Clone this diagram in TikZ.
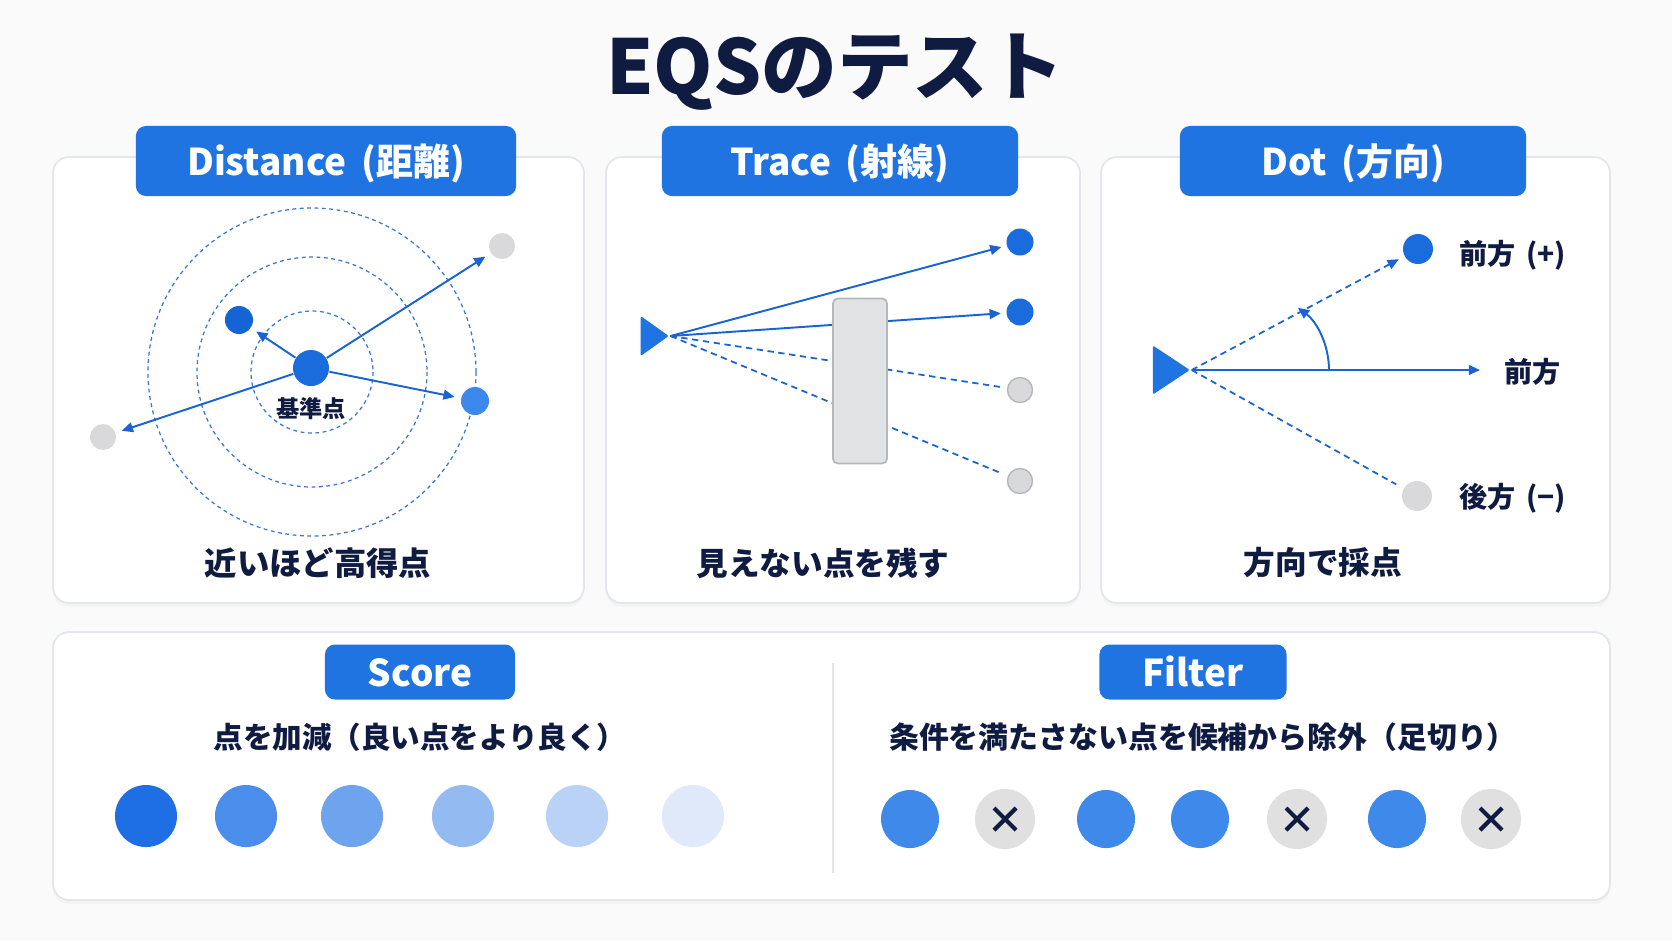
\documentclass[tikz,border=0pt]{standalone}
\usepackage{fontspec}
\setmainfont{Noto Sans CJK JP}
\usetikzlibrary{arrows.meta,shapes.geometric,shadows}
\definecolor{pagebg}{HTML}{FAFAFB}
\definecolor{cardline}{HTML}{E3E6EA}
\definecolor{tabblue}{HTML}{1F74E2}
\definecolor{ink}{HTML}{0F1B40}
\definecolor{ringblue}{HTML}{3A76D2}
\definecolor{rayblue}{HTML}{1A64D2}
\definecolor{ptblue}{HTML}{1A6CDC}
\definecolor{deepblue}{HTML}{1464D6}
\definecolor{midblue}{HTML}{3C88EC}
\definecolor{ptgrey}{HTML}{D9D9DB}
\definecolor{greyline}{HTML}{B4B7BB}
\definecolor{wallgrey}{HTML}{E2E3E5}
\definecolor{fblue}{HTML}{3F89EA}
\definecolor{fgrey}{HTML}{E0E0E1}
\definecolor{sc1}{HTML}{1E6FE3}
\definecolor{sc2}{HTML}{4A8DEA}
\definecolor{sc3}{HTML}{6EA4EE}
\definecolor{sc4}{HTML}{93BBF2}
\definecolor{sc5}{HTML}{B9D2F6}
\definecolor{sc6}{HTML}{DFE9FA}

\begin{document}
\begin{tikzpicture}[x=0.01cm,y=-0.01cm,
  card/.style={draw=cardline,fill=white,rounded corners=0.16cm,line width=0.5pt,
    drop shadow={opacity=0.05,shadow xshift=0pt,shadow yshift=-0.04cm}},
  tab/.style={fill=tabblue,rounded corners=0.1cm,text=white,inner sep=0pt,
    text height=0.85em,text depth=0.05em,
    minimum height=0.7cm,font=\bfseries\fontsize{10.5}{11}\selectfont},
  lbl/.style={text=ink,inner sep=1pt,font=\bfseries\fontsize{#1}{#1}\selectfont},
  pt/.style={circle,fill=#1,inner sep=0pt},
  ring/.style={draw=ringblue,line width=0.35pt,dash pattern=on 1.1pt off 1pt},
  ray/.style={draw=rayblue,line width=0.55pt,-{Triangle[length=3.2pt,width=2.8pt]}},
  dray/.style={draw=rayblue,line width=0.5pt,dash pattern=on 1.8pt off 1.3pt},
  eye/.style={isosceles triangle,isosceles triangle stretches,fill=tabblue,
    inner sep=0pt,rounded corners=0.4pt},
  keep/.style={pt=fblue,minimum size=0.58cm},
  drop/.style={pt=fgrey,minimum size=0.6cm,path picture={
    \draw[ink,line width=1.2pt]
      ([shift={(-0.11cm,-0.11cm)}]path picture bounding box.center) --
      ([shift={(0.11cm,0.11cm)}]path picture bounding box.center)
      ([shift={(-0.11cm,0.11cm)}]path picture bounding box.center) --
      ([shift={(0.11cm,-0.11cm)}]path picture bounding box.center);}}
]
\fill[pagebg] (0,0) rectangle (1672,941);
\useasboundingbox (0,0) rectangle (1672,941);

\node[text=ink,font=\bfseries\fontsize{21.5}{23}\selectfont] (title) at (835,72) {EQSのテスト};

\draw[card] (53,157) rectangle (584,603);
\draw[card] (606,157) rectangle (1080,603);
\draw[card] (1101,157) rectangle (1610,603);
\draw[card] (53,632) rectangle (1610,900);

\node[tab,minimum width=3.8cm] (tdist) at (326,161) {Distance\, (距離)};
\node[tab,minimum width=3.56cm] (ttrace) at (840,161) {Trace\, (射線)};
\node[tab,minimum width=3.46cm] (tdot) at (1353,161) {Dot\, (方向)};
\node[tab,minimum width=1.9cm,minimum height=0.55cm] (tscore) at (420,672) {Score};
\node[tab,minimum width=1.87cm,minimum height=0.55cm] (tfilter) at (1193,672) {Filter};

\coordinate (rc) at (312,372);
\foreach \r in {61,115,164}
  \draw[ring] (rc) circle[radius=\r];
\node[pt=ptblue,minimum size=0.36cm] (c) at (311,368) {};
\node[pt=deepblue,minimum size=0.28cm] (d1) at (239,320) {};
\node[pt=ptgrey,minimum size=0.26cm] (d2) at (502,246) {};
\node[pt=midblue,minimum size=0.28cm] (d3) at (475,401) {};
\node[pt=ptgrey,minimum size=0.26cm] (d4) at (103,437) {};
\foreach \p in {d1,d2,d3,d4}
  \draw[ray,shorten >=0.06cm] (c) -- (\p);
\node[lbl=6.6] (base) at (311,409) {基準点};
\node[lbl=9.2] (capdist) at (318,563) {近いほど高得点};

\node[eye,minimum width=0.40cm,minimum height=0.28cm] (eye1) at (651,336) {};
\node[pt=ptblue,minimum size=0.27cm] (t1) at (1020,242) {};
\node[pt=ptblue,minimum size=0.27cm] (t2) at (1020,312) {};
\node[pt=ptgrey,draw=greyline,line width=0.4pt,minimum size=0.25cm] (t3) at (1020,390) {};
\node[pt=ptgrey,draw=greyline,line width=0.4pt,minimum size=0.25cm] (t4) at (1020,481) {};
\draw[ray,shorten >=0.05cm] (eye1.east) -- (t1);
\draw[ray,shorten >=0.05cm] (eye1.east) -- (t2);
\draw[dray,shorten >=0.07cm] (eye1.east) -- (t3);
\draw[dray,shorten >=0.07cm] (eye1.east) -- (t4);
\node[draw=greyline,fill=wallgrey,line width=0.5pt,rounded corners=0.05cm,
  minimum width=0.54cm,minimum height=1.65cm] (wall) at (860,381) {};
\node[lbl=9] (captrace) at (823,563) {見えない点を残す};

\node[eye,minimum width=0.49cm,minimum height=0.37cm] (eye2) at (1166,370) {};
\coordinate (fwd) at (1480,370);
\node[pt=ptblue,minimum size=0.3cm] (u) at (1418,249) {};
\node[pt=ptgrey,minimum size=0.3cm] (b) at (1417,496) {};
\draw[ray] (eye2.east) -- (fwd);
\draw[dray,-{Triangle[length=3.2pt,width=2.8pt]},shorten >=0.06cm] (eye2.east) -- (u);
\draw[dray,shorten >=0.08cm] (eye2.east) -- (b);
\draw[ray] (1329,370) arc[start angle=0,end angle=-53,radius=78];
\node[lbl=8,anchor=west] (lu) at (1455,255) {前方\, (+)};
\node[lbl=8,anchor=west] (lf) at (1500,372) {前方};
\node[lbl=8,anchor=west] (lb) at (1455,498) {後方\, (−)};
\node[lbl=9] (capdot) at (1323,563) {方向で採点};

\node[lbl=8.4] (capscore) at (420,737) {点を加減（良い点をより良く）};
\foreach \x/\c [count=\i] in {146/sc1,246/sc2,352/sc3,463/sc4,577/sc5,693/sc6}
  \node[pt=\c,minimum size=0.62cm] (s\i) at (\x,816) {};

\draw[cardline,line width=0.6pt] (833,663) -- (833,873);

\node[lbl=8.5] (capfilter) at (1203,737) {条件を満たさない点を候補から除外（足切り）};
\foreach \x/\k [count=\i] in {910/keep,1005/drop,1106/keep,1200/keep,1297/drop,1397/keep,1491/drop}
  \node[\k] (f\i) at (\x,819) {};
\end{tikzpicture}
\end{document}
